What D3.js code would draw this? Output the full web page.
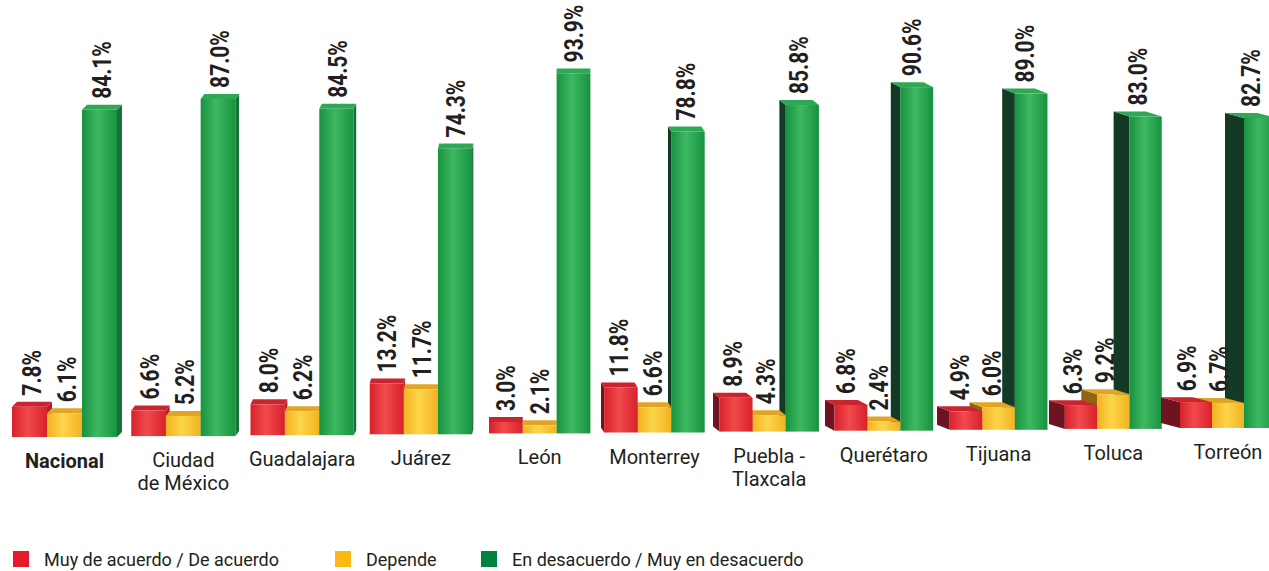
<!DOCTYPE html>
<html lang="es">
<head>
<meta charset="UTF-8">
<title>Muy de acuerdo / Depende / En desacuerdo</title>
<script src="https://d3js.org/d3.v7.min.js"></script>
<style>
    body { margin: 0; background: #fff; }
    svg { display: block; }
    .val { font: bold 25px Roboto, sans-serif; fill: #231f20; }
    .cat { font: 20px Roboto, sans-serif; fill: #231f20; }
    .leg { font: 18px Roboto, sans-serif; fill: #231f20; }
</style>
</head>
<body>
<svg width="1269" height="571"></svg>
<script>
    const categories = ["Nacional", "Ciudad|de México", "Guadalajara", "Juárez", "León", "Monterrey",
        "Puebla -|Tlaxcala", "Querétaro", "Tijuana", "Toluca", "Torreón"];
    const acuerdo = [7.8, 6.6, 8.0, 13.2, 3.0, 11.8, 8.9, 6.8, 4.9, 6.3, 6.9];
    const depende = [6.1, 5.2, 6.2, 11.7, 2.1, 6.6, 4.3, 2.4, 6.0, 9.2, 6.7];
    const desacuerdo = [84.1, 87.0, 84.5, 74.3, 93.9, 78.8, 85.8, 90.6, 89.0, 83.0, 82.7];
    const seriesNames = ["Muy de acuerdo / De acuerdo", "Depende", "En desacuerdo / Muy en desacuerdo"];

    const series = [acuerdo, depende, desacuerdo];
    const pal = [
        {key: "r", dark: "#d8202c", light: "#f24a4c", top: "#c8252f", sideR: "#b51d28", sideL: "#6e1420", leg: "#e31b2d"},
        {key: "y", dark: "#f2b222", light: "#fdd54a", top: "#e1a526", sideR: "#d39a1d", sideL: "#8f6512", leg: "#fdb913"},
        {key: "g", dark: "#17923f", light: "#3fb862", top: "#2ea854", sideR: "#16703a", sideL: "#143a25", leg: "#00843d"}
    ];

    const svg = d3.select("svg");
    const defs = svg.append("defs");
    pal.forEach(p => {
        const gr = defs.append("linearGradient").attr("id", "grad-" + p.key)
            .attr("x1", 0).attr("x2", 1).attr("y1", 0).attr("y2", 0);
        gr.append("stop").attr("offset", "0%").attr("stop-color", p.dark);
        gr.append("stop").attr("offset", "45%").attr("stop-color", p.light);
        gr.append("stop").attr("offset", "100%").attr("stop-color", p.dark);
    });

    // perspective: each group has its own x start, width, baseline and side offset
    const idx = d3.range(categories.length);
    const x0 = d3.scaleLinear().domain([0, 4, 10]).range([12, 489, 1180]);
    const bw = d3.scaleLinear().domain([0, 10]).range([35, 32]);
    const side = d3.scaleLinear().domain([0, 4, 10]).range([5, 0, -19]);
    const base = d3.scaleLinear().domain([0, 10]).range([437, 428]);
    const top100 = d3.scaleLinear().domain([0, 10]).range([48, 53]);
    const dy = 5;
    const fmt = d3.format(".1f");

    const chart = svg.append("g");

    idx.forEach(i => {
        const y = d3.scaleLinear().domain([0, 100]).range([base(i), top100(i)]);
        const w = bw(i), dx = side(i), b = base(i);
        const order = dx >= 0 ? [0, 1, 2] : [2, 1, 0];
        const g = chart.append("g");

        order.forEach(s => {
            const v = series[s][i];
            const p = pal[s];
            const xl = x0(i) + s * w;
            const yt = y(v);
            // side face
            const sx = dx >= 0 ? xl + w : xl;
            g.append("polygon")
                .attr("points", [[sx, yt], [sx + dx, yt - dy], [sx + dx, b - dy], [sx, b]].join(" "))
                .attr("fill", dx >= 0 ? p.sideR : p.sideL);
            // top face
            g.append("polygon")
                .attr("points", [[xl, yt], [xl + w, yt], [xl + w + dx, yt - dy], [xl + dx, yt - dy]].join(" "))
                .attr("fill", p.top);
            // front face
            g.append("rect")
                .attr("x", xl).attr("y", yt)
                .attr("width", w).attr("height", b - yt)
                .attr("fill", "url(#grad-" + p.key + ")");
        });

        // value labels
        series.forEach((arr, s) => {
            const v = arr[i];
            const cx = x0(i) + s * w + w / 2 + dx / 2;
            const ly = y(v) - dy - 6;
            chart.append("text")
                .attr("class", "val")
                .attr("transform", `translate(${cx + 9},${ly}) rotate(-90) scale(0.84,1)`)
                .text(fmt(v) + "%");
        });

        // category label
        const lines = categories[i].split("|");
        const t = chart.append("text")
            .attr("class", "cat")
            .attr("text-anchor", "middle")
            .style("font-weight", i === 0 ? "bold" : null)
            .attr("x", x0(i) + 1.5 * w)
            .attr("y", b + 31);
        lines.forEach((ln, k) => {
            t.append("tspan").attr("x", x0(i) + 1.5 * w).attr("dy", k === 0 ? 0 : 23).text(ln);
        });
    });

    // legend
    const legX = [13, 335, 481];
    const leg = svg.append("g");
    seriesNames.forEach((name, s) => {
        leg.append("rect")
            .attr("x", legX[s]).attr("y", 551)
            .attr("width", 16).attr("height", 16)
            .attr("fill", pal[s].leg);
        leg.append("text")
            .attr("class", "leg")
            .attr("x", legX[s] + 31).attr("y", 566)
            .text(name);
    });
</script>
</body>
</html>
